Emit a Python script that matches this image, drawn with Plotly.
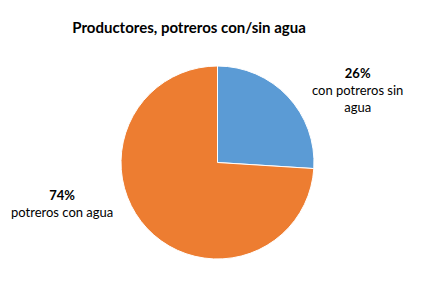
import plotly.graph_objects as go

labels = ["con potreros sin agua", "potreros con agua"]
values = [26, 74]
pct_text = ["26%", "74%"]
label_text = ["con potreros sin<br>agua", "potreros con agua"]
colors = ["#5B9BD5", "#ED7D31"]

W, H = 425, 285
fig = go.Figure(go.Pie(
    labels=labels, values=values, sort=False, direction="clockwise", rotation=0,
    marker=dict(colors=colors, line=dict(color="white", width=1)),
    textinfo="none", hoverinfo="label+percent",
    domain=dict(x=[121/W, 314/W], y=[26/H, 219/H]),
    showlegend=False,
))

font = "Lato, Carlito, Calibri, sans-serif"
pos = [(357, 90), (62, 203)]
for (x, y), p, t in zip(pos, pct_text, label_text):
    fig.add_annotation(x=x/W, y=1-y/H, xref="paper", yref="paper",
                       text=f"<b>{p}</b><br>{t}", showarrow=False,
                       xanchor="center", yanchor="middle", align="center",
                       font=dict(family=font, size=13, color="#000000"))

fig.update_layout(
    width=W, height=H, margin=dict(l=0, r=0, t=0, b=0),
    paper_bgcolor="white", plot_bgcolor="white",
    title=dict(text="<b>Productores, potreros con/sin agua</b>", x=189/W, xanchor="center",
               y=1-28/H, yanchor="middle", font=dict(family=font, size=15, color="#000000")),
)
fig.write_html("out.html")
